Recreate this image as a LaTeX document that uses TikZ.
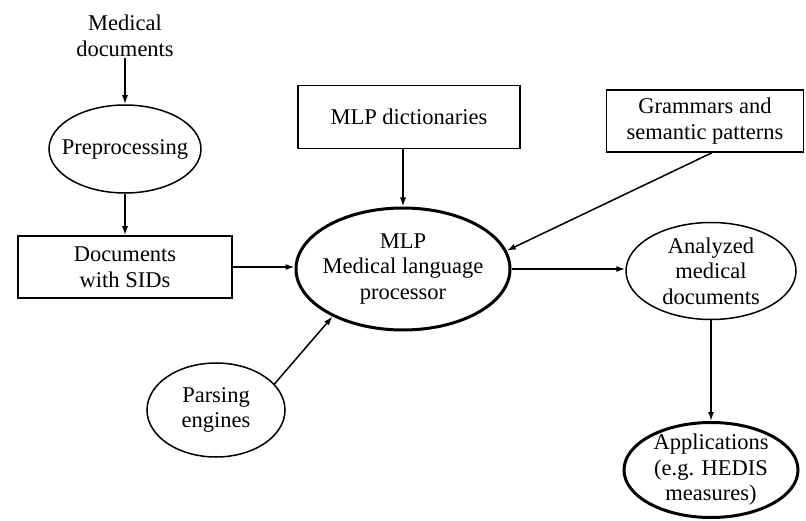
\documentclass[tikz,border=0pt]{standalone}
\usepackage{fontspec}
\setmainfont{Liberation Serif}
\usetikzlibrary{shapes.geometric,arrows.meta}
\begin{document}
\begin{tikzpicture}[x=1pt,y=-1pt,
  every node/.style={font=\fontsize{22.5}{25.5}\selectfont, align=center},
  box/.style={draw, line width=1.5pt, rectangle, inner sep=0pt},
  ell/.style={draw, line width=1.5pt, ellipse, inner xsep=-40pt, inner ysep=-15pt},
  boldline/.style={line width=3pt},
  arr/.style={line width=1.5pt, -{Latex[length=9pt,width=6pt]}}]
\useasboundingbox (0,0) rectangle (806,521);
\node[inner sep=1pt] (med) at (125,36) {Medical\\documents};
\node[ell, minimum width=152pt, minimum height=88pt] (pre) at (125,149) {Preprocessing};
\node[box, minimum width=214pt, minimum height=62pt] (docs) at (125,267) {Documents\\with SIDs};
\node[box, minimum width=222pt, minimum height=63pt] (dict) at (409,117) {MLP dictionaries};
\node[box, minimum width=197pt, minimum height=62pt] (gram) at (705,121) {Grammars and\\semantic patterns};
\node[ell, boldline, minimum width=214pt, minimum height=122pt] (mlp) at (403,269) {MLP\\Medical language\\processor};
\node[ell, minimum width=138pt, minimum height=94pt] (par) at (216,410) {Parsing\\engines};
\node[ell, minimum width=170pt, minimum height=97pt] (ana) at (711,271) {Analyzed\\medical\\documents};
\node[ell, boldline, minimum width=174pt, minimum height=95pt] (app) at (711,470) {Applications\\(e.g. HEDIS\\measures)};
\draw[arr] (med.south) -- (pre.north);
\draw[arr] (pre.south) -- (docs.north);
\draw[arr] (docs.east) -- (docs.east -| mlp.west);
\draw[arr] (dict.south -| mlp.north) -- (mlp.north);
\draw[arr] ([xshift=7pt]gram.south) -- (mlp.10);
\draw[arr] (par.24) -- (mlp.214);
\draw[arr] (mlp.east) -- (mlp.east -| ana.west);
\draw[arr] (ana.south) -- (app.north);
\end{tikzpicture}
\end{document}
